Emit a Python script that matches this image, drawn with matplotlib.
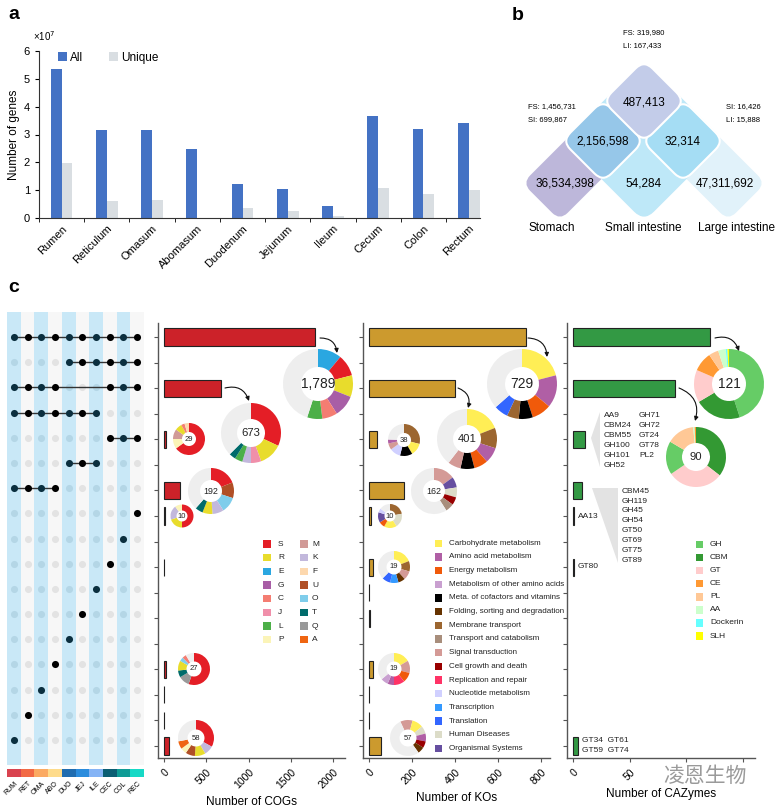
import matplotlib.pyplot as plt
import numpy as np
from matplotlib.patches import FancyBboxPatch, Polygon, Rectangle
from matplotlib.transforms import Affine2D
from matplotlib.colors import to_rgba

plt.rcParams['font.family'] = ['Liberation Sans', 'DejaVu Sans']

W, H = 775, 809

# ---------------- panel a: genes per site (x 10^7)
sites = ['Rumen', 'Reticulum', 'Omasum', 'Abomasum', 'Duodenum', 'Jejunum',
         'Ileum', 'Cecum', 'Colon', 'Rectum']
genes_all = [5.35, 3.16, 3.17, 2.47, 1.23, 1.03, 0.42, 3.66, 3.20, 3.40]
genes_unique = [1.98, 0.61, 0.65, 0.0, 0.35, 0.26, 0.07, 1.08, 0.86, 1.01]

# ---------------- panel b: venn
venn_names = ['Stomach', 'Small intestine', 'Large intestine']
venn_unique = ['36,534,398', '54,284', '47,311,692']
venn_shared = ['2,156,598', '32,314', '487,413']   # St-SI, SI-LI, St-LI
split_left = ['FS: 1,456,731', 'SI: 699,867']
split_right = ['SI: 16,426', 'LI: 15,888']
split_top = ['FS: 319,980', 'LI: 167,433']

# ---------------- panel c: upset
tissues = ['RUM', 'RET', 'OMA', 'ABO', 'DUO', 'JEJ', 'ILE', 'CEC', 'COL', 'REC']
tissue_colors = ['#D9434F', '#F26A45', '#FBAA62', '#FEDB8B', '#1F6CB0',
                 '#2B8CDD', '#84B3F5', '#0B5E73', '#0E9B95', '#17D9C6']
combos = [
    [0, 1, 2, 3, 4, 5, 6, 7, 8, 9],
    [4, 5, 6, 7, 8, 9],
    [0, 1, 2, 3, 7, 8, 9],
    [0, 1, 2, 3, 4, 5, 6],
    [7, 8, 9],
    [4, 5, 6],
    [0, 1, 2, 3],
    [9], [8], [7], [6], [5], [4], [3], [2], [1], [0],
]
n_cog = [1789, 0, 673, 0, 29, 0, 192, 10, 0, 3, 0, 0, 0, 27, 2, 2, 58]
n_ko = [729, 0, 401, 0, 38, 0, 162, 10, 0, 19, 1, 4, 0, 19, 1, 1, 57]
n_caz = [121, 0, 90, 0, 11, 0, 8, 1, 0, 1, 0, 0, 0, 0, 0, 0, 4]

cog_cats = ['S', 'R', 'E', 'G', 'C', 'J', 'L', 'P',
            'M', 'K', 'F', 'U', 'O', 'T', 'Q', 'A']
cog_colors = ['#E41E26', '#E8DC2C', '#2AA7E1', '#A85EA6', '#F47D72', '#F08FAA',
              '#4CAF48', '#FBF4B8', '#D19A97', '#C2B8DC', '#FDD8AE', '#B04F26',
              '#7FCDEB', '#006B6B', '#999999', '#EF6512']
ko_cats = ['Carbohydrate metabolism', 'Amino acid metabolism', 'Energy metabolism',
           'Metabolism of other amino acids', 'Meta. of cofactors and vitamins',
           'Folding, sorting and degradation', 'Membrane transport',
           'Transport and catabolism', 'Signal transduction', 'Cell growth and death',
           'Replication and repair', 'Nucleotide metabolism', 'Transcription',
           'Translation', 'Human Diseases', 'Organismal Systems']
ko_colors = ['#FFEE55', '#B05FA5', '#F05A0A', '#C9A0D0', '#000000', '#663300',
             '#9C6630', '#A88E7C', '#D49A96', '#990000', '#FF3366', '#D0D0FF',
             '#3399FF', '#3366FF', '#DCDCC8', '#664FA0']
caz_cats = ['GH', 'CBM', 'GT', 'CE', 'PL', 'AA', 'Dockerin', 'SLH']
caz_colors = ['#66CC66', '#339933', '#FFCCCC', '#FF9933', '#FFC896', '#CCFFCC',
              '#66FFFF', '#FFFF00']

# donut slices, clockwise from 12 o'clock; the rest is grey (other classes)
cog_pie_labels = ['1,789', '673', '29', '192', '10', '27', '58']
cog_pie_slices = [
    [('E', .11), ('S', .10), ('R', .10), ('G', .10), ('C', .07), ('L', .07)],
    [('S', .32), ('R', .125), ('J', .055), ('K', .047), ('L', .042), ('T', .036)],
    [('S', .65), ('P', .10), ('M', .10), ('R', .07), ('C', .035), ('F', .045)],
    [('S', .19), ('U', .11), ('O', .11), ('K', .08), ('R', .07), ('T', .055)],
    [('S', .50), ('R', .20), ('K', .20), ('P', .10)],
    [('S', .555), ('Q', .11), ('T', .07), ('R', .10), ('O', .04), ('C', .04)],
    [('S', .33), ('K', .085), ('R', .095), ('U', .085), ('P', .055), ('A', .07)],
]
ko_pie_labels = ['729', '401', '38', '162', '10', '19', '19', '57']
ko_pie_slices = [
    [('Carbohydrate metabolism', .21), ('Amino acid metabolism', .15),
     ('Energy metabolism', .09), ('Meta. of cofactors and vitamins', .065),
     ('Membrane transport', .055), ('Translation', .065)],
    [('Carbohydrate metabolism', .19), ('Membrane transport', .11),
     ('Amino acid metabolism', .085), ('Energy metabolism', .075),
     ('Meta. of cofactors and vitamins', .075), ('Signal transduction', .07)],
    [('Membrane transport', .29), ('Carbohydrate metabolism', .125),
     ('Meta. of cofactors and vitamins', .125), ('Nucleotide metabolism', .11),
     ('Signal transduction', .065), ('Amino acid metabolism', .04)],
    [('Signal transduction', .15), ('Organismal Systems', .075),
     ('Human Diseases', .07), ('Cell growth and death', .055),
     ('Transport and catabolism', .06)],
    [('Membrane transport', .22), ('Human Diseases', .19),
     ('Carbohydrate metabolism', .17), ('Energy metabolism', .08),
     ('Organismal Systems', .14), ('Nucleotide metabolism', .055)],
    [('Carbohydrate metabolism', .19), ('Membrane transport', .105),
     ('Signal transduction', .09), ('Folding, sorting and degradation', .07),
     ('Transcription', .085), ('Translation', .085)],
    [('Carbohydrate metabolism', .165), ('Signal transduction', .125),
     ('Energy metabolism', .10), ('Replication and repair', .11),
     ('Amino acid metabolism', .065), ('Metabolism of other amino acids', .075)],
    [('Signal transduction', .11), ('Carbohydrate metabolism', .10),
     ('Human Diseases', .07), ('Amino acid metabolism', .07),
     ('Cell growth and death', .06), ('Folding, sorting and degradation', .06)],
]
caz_pie_labels = ['121', '90']
caz_pie_slices = [
    [('GH', .45), ('CBM', .215), ('GT', .15), ('CE', .09), ('PL', .045),
     ('AA', .035), ('Dockerin', .008), ('SLH', .007)],
    [('CBM', .355), ('GT', .30), ('GH', .18), ('PL', .15), ('AA', .008), ('CE', .007)],
]
caz_fam_a1 = ['AA9', 'CBM24', 'CBM55', 'GH100', 'GH101', 'GH52']
caz_fam_a2 = ['GH71', 'GH72', 'GT24', 'GT78', 'PL2']
caz_fam_b = ['CBM45', 'GH119', 'GH45', 'GH54', 'GT50', 'GT69', 'GT75', 'GT89']
caz_fam_c = ['GT34  GT61', 'GT59  GT74']

# ---------------- layout (pixel positions, y from top)
cog_pie_pos = [(318, 384, 35, 17), (251, 433, 30, 14), (189, 439, 16, 7),
               (211, 491, 23, 11), (182, 516, 11.5, 5.5), (194, 669, 16, 7.5),
               (196, 738, 18, 8.5)]
ko_pie_pos = [(522, 384, 35, 17), (467, 439, 30, 14), (404, 440, 16, 7),
              (434, 491, 23, 11), (390, 516, 12, 5.5), (394, 567, 16, 7.5),
              (394, 669, 16, 7.5), (408, 738, 18, 8.5)]
caz_pie_pos = [(729, 384, 35, 17), (696, 457, 30, 14)]


def px_axes(left, top, right, bottom):
    return fig.add_axes([left / W, 1 - bottom / H, (right - left) / W, (bottom - top) / H])


fig = plt.figure(figsize=(W / 100, H / 100), dpi=100)

# ======== panel a
axa = px_axes(39, 51, 480, 218)
x = np.arange(len(sites))
axa.bar(x - 0.12, genes_all, 0.24, color='#4472C4', label='All')
axa.bar(x + 0.12, genes_unique, 0.24, color='#D9DEE2', label='Unique')
axa.set_xlim(-0.5, 9.25)
axa.set_ylim(0, 6)
axa.set_yticks(range(7))
axa.tick_params(axis='y', labelsize=8, length=3)
axa.set_xticks(x)
axa.set_xticklabels(sites, rotation=45, ha='right', rotation_mode='anchor', fontsize=8)
axa.set_xticks(np.arange(-0.5, 9.0, 1), minor=True)
axa.tick_params(axis='x', which='major', length=0, pad=4)
axa.tick_params(axis='x', which='minor', length=3)
for s in ['top', 'right']:
    axa.spines[s].set_visible(False)
for s in ['left', 'bottom']:
    axa.spines[s].set_color('#333333')
    axa.spines[s].set_linewidth(0.8)
axa.set_ylabel('Number of genes', fontsize=8.5, labelpad=3)
axa.legend(loc='upper left', bbox_to_anchor=(0.02, 1.06), ncol=2, frameon=False,
           fontsize=8.5, handlelength=0.7, handleheight=0.7, handletextpad=0.3,
           columnspacing=2.2)

# ======== panel c: matrix
axm = px_axes(7, 312, 144, 765)
for j in range(10):
    axm.axvspan(j - 0.5, j + 0.5, color='#C9E8F7' if j % 2 == 0 else '#F7F7F7', lw=0)
for i, combo in enumerate(combos):
    for j in range(10):
        if j in combo:
            c, z = ('#0B2F3F' if j % 2 == 0 else '#000000'), 4
        else:
            c, z = ('#B4D6E6' if j % 2 == 0 else '#E3E3E3'), 2
        axm.scatter(j, i, s=26, color=c, zorder=z, lw=0)
    if len(combo) > 1:
        axm.plot([min(combo), max(combo)], [i, i], color='#333333', lw=1, zorder=3)
axm.set_xlim(-0.5, 9.5)
axm.set_ylim(16.99, -0.99)
axm.axis('off')

axs = px_axes(7, 769, 144, 777)
axs.bar(range(10), [1] * 10, width=1, color=tissue_colors)
axs.set_xlim(-0.5, 9.5)
axs.set_ylim(0, 1)
axs.set_yticks([])
axs.set_xticks(range(10))
axs.set_xticklabels(tissues, rotation=45, ha='right', rotation_mode='anchor', fontsize=5)
axs.tick_params(length=0, pad=2)
for s in axs.spines.values():
    s.set_visible(False)


# ======== panel c: bar panels
def bar_panel(left, right, values, color, xlim, ticks, ticklabels, xlabel):
    ax = px_axes(left, 323, right, 758)
    y = np.arange(len(values))
    v = np.array(values)
    m = v > 0
    ax.barh(y[m], v[m], height=0.67, color=color, edgecolor='#222222', linewidth=0.8)
    ax.set_ylim(16.47, -0.55)
    ax.set_xlim(*xlim)
    ax.set_yticks(y)
    ax.set_yticklabels([])
    ax.set_xticks(ticks)
    ax.set_xticklabels(ticklabels, rotation=45, ha='right', rotation_mode='anchor', fontsize=7.5)
    ax.tick_params(length=3, color='#555555')
    for s in ['top', 'right']:
        ax.spines[s].set_visible(False)
    for s in ['left', 'bottom']:
        ax.spines[s].set_color('#555555')
        ax.spines[s].set_linewidth(1)
    ax.set_xlabel(xlabel, fontsize=8.5, labelpad=4)
    return ax


bar_panel(158, 345, n_cog, '#CC2229', (-71, 2142), [0, 500, 1000, 1500, 2000],
          ['0', '500', '1000', '1500', '2000'], 'Number of COGs')
bar_panel(363, 550, n_ko, '#CC9A2E', (-28, 842), [0, 200, 400, 600, 800],
          ['0', '200', '400', '600', '800'], 'Number of KOs')
bar_panel(567, 755, n_caz, '#339944', (-5.3, 160.6), [0, 50, 100, 150],
          ['0', '50', '', ''], 'Number of CAZymes')

# ======== overlay (pixel coordinates, y up)
ov = fig.add_axes([0, 0, 1, 1], zorder=10)
ov.patch.set_alpha(0)


def donut(slices, cmap, pos, label, start=90):
    cx, cy, r, ri = pos
    vals = [v for _, v in slices]
    cols = [cmap[c] for c, _ in slices]
    rest = 1 - sum(vals)
    if rest > 0.002:
        vals.append(rest)
        cols.append('#EEEEEE')
    ov.pie(vals, colors=cols, startangle=start, counterclock=False, radius=r,
           center=(cx, H - cy), frame=True,
           wedgeprops=dict(width=r - ri, linewidth=0))
    ov.text(cx, H - cy, label, ha='center', va='center',
            fontsize=max(5.5, ri * 0.58), color='#222222')


cog_map = dict(zip(cog_cats, cog_colors))
ko_map = dict(zip(ko_cats, ko_colors))
caz_map = dict(zip(caz_cats, caz_colors))
for sl, pos, lab in zip(cog_pie_slices, cog_pie_pos, cog_pie_labels):
    donut(sl, cog_map, pos, lab)
for k, (sl, pos, lab) in enumerate(zip(ko_pie_slices, ko_pie_pos, ko_pie_labels)):
    donut(sl, ko_map, pos, lab, start=115 if k == 7 else 90)
for sl, pos, lab in zip(caz_pie_slices, caz_pie_pos, caz_pie_labels):
    donut(sl, caz_map, pos, lab)

# arrows from bars to donuts
arrows = [((320, 338), (337, 353)), ((225, 388), (249, 401)),
          ((528, 338), (547, 357)), ((458, 388), (468, 408)),
          ((715, 338), (739, 351)), ((679, 388), (695, 421))]
for (x0, y0), (x1, y1) in arrows:
    ov.annotate('', xy=(x1, H - y1), xytext=(x0, H - y0),
                arrowprops=dict(arrowstyle='-|>', connectionstyle='arc3,rad=-0.45',
                                color='#111111', lw=0.8, mutation_scale=6,
                                shrinkA=0, shrinkB=0))


# legends
def legend_col(names, cmap, xs, xt, y0, dy, fs):
    for k, nme in enumerate(names):
        yy = H - (y0 + k * dy)
        ov.add_patch(Rectangle((xs - 3.8, yy - 3.8), 7.6, 7.6, color=cmap[nme], lw=0))
        ov.text(xt, yy, nme, ha='left', va='center', fontsize=fs, color='#222222')


legend_col(cog_cats[:8], cog_map, 267, 278, 544, 13.67, 6)
legend_col(cog_cats[8:], cog_map, 304, 312, 544, 13.67, 6)
legend_col(ko_cats, ko_map, 438.5, 449, 543.3, 13.67, 5.8)
legend_col(caz_cats, caz_map, 699.5, 710, 544.3, 13.1, 6)

# CAZy family callouts
ov.add_patch(Polygon([(591, H - 438), (600, H - 412), (600, H - 467)], color='#E3E3E3', lw=0))
ov.add_patch(Polygon([(592, H - 488), (618, H - 488), (618, H - 563)], color='#E3E3E3', lw=0))
for k, t in enumerate(caz_fam_a1):
    ov.text(604, H - (415 + 10 * k), t, fontsize=6, va='center', color='#222222')
for k, t in enumerate(caz_fam_a2):
    ov.text(639, H - (415 + 10 * k), t, fontsize=6, va='center', color='#222222')
for k, t in enumerate(caz_fam_b):
    ov.text(622, H - (491 + 10 * k), t, fontsize=6, va='center', color='#222222')
ov.text(578, H - 516, 'AA13', fontsize=6, va='center', color='#222222')
ov.text(578, H - 567, 'GT80', fontsize=6, va='center', color='#222222')
for k, t in enumerate(caz_fam_c):
    ov.text(582, H - (741 + 10 * k), t, fontsize=6, va='center', color='#222222')


# ======== panel b: rounded diamonds / bands
def rrect(cx, cy, w, h, ang, color, z, ec='none', alpha=1.0, r=11):
    Y = H - cy
    p = FancyBboxPatch((cx - w / 2, Y - h / 2), w, h,
                       boxstyle='round,pad=0,rounding_size=%g' % r,
                       fc=to_rgba(color, alpha), ec=ec, lw=1.5, zorder=z)
    p.set_transform(Affine2D().rotate_deg_around(cx, Y, ang) + ov.transData)
    ov.add_patch(p)


rrect(585, 158, 124, 53, 45, '#BDB7DA', 1)            # stomach
rrect(703, 158, 124, 53, -45, '#E1F2FA', 1)           # large intestine
rrect(644, 141, 114, 114, 45, '#BEE8F8', 2, r=14)     # small intestine
rrect(603, 141, 58, 58, 45, '#8CBFE6', 3, ec='white', alpha=0.8, r=12)
rrect(683, 141, 58, 58, 45, '#A3DCF4', 3, ec='white', alpha=0.9, r=12)
rrect(644, 101, 58, 58, 45, '#C3CCE9', 4, ec='white', r=12)

for (xx, yy), t in zip([(565, 183), (644, 183), (725, 183)], venn_unique):
    ov.text(xx, H - yy, t, ha='center', va='center', fontsize=8.5, zorder=5)
for (xx, yy), t in zip([(603, 141), (683, 141), (644, 102)], venn_shared):
    ov.text(xx, H - yy, t, ha='center', va='center', fontsize=8.5, zorder=5)
for (xx, yy), t in zip([(552, 228), (643, 228), (737, 228)], venn_names):
    ov.text(xx, H - yy, t, ha='center', va='center', fontsize=8.5)
for k in range(2):
    ov.text(623, H - (33 + 13 * k), split_top[k], fontsize=5.5, va='center')
    ov.text(528, H - (107 + 13 * k), split_left[k], fontsize=5.5, va='center')
    ov.text(726, H - (107 + 13 * k), split_right[k], fontsize=5.5, va='center')

# panel labels and offset text
ov.text(8, H - 14, 'a', fontsize=14, fontweight='bold', va='center')
ov.text(512, H - 15, 'b', fontsize=14, fontweight='bold', va='center')
ov.text(8, H - 287, 'c', fontsize=14, fontweight='bold', va='center')
ov.text(33, H - 36, '×10$^{7}$', fontsize=7, va='center')

# watermark
ov.text(705, H - 776, '凌恩生物', fontsize=15, color='#9A9A9A', style='italic',
        ha='center', va='center', family=['Noto Sans CJK SC', 'DejaVu Sans'])

ov.set_xlim(0, W)
ov.set_ylim(0, H)
ov.set_aspect('auto')
ov.axis('off')

fig.savefig('out.png', dpi=100)
